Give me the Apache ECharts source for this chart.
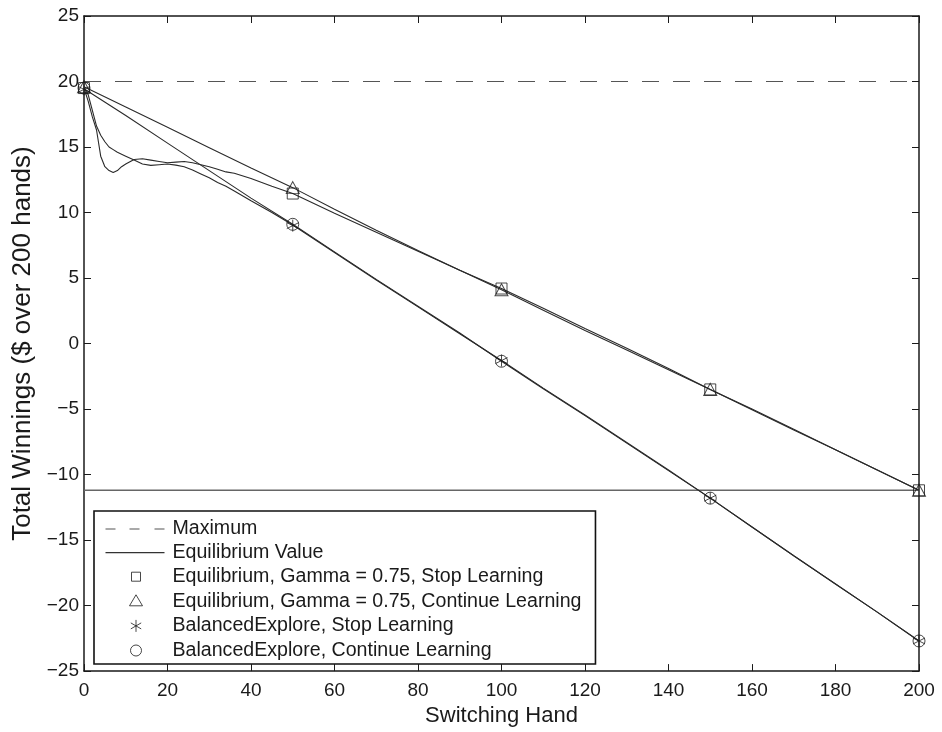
<!DOCTYPE html>
<html>
<head>
<meta charset="utf-8">
<script src="https://cdn.jsdelivr.net/npm/echarts@6/dist/echarts.min.js"></script>
<style>
html,body{margin:0;padding:0;background:#fff;}
#chart{width:942px;height:732px;}
</style>
</head>
<body>
<div id="chart"></div>
<script>
// ---- data ----
const xTicks = [0, 20, 40, 60, 80, 100, 120, 140, 160, 180, 200];
const yTicks = [-25, -20, -15, -10, -5, 0, 5, 10, 15, 20, 25];
const maximumValue = 20;
const equilibriumValue = -11.2;

const markerHands = [0, 50, 100, 150, 200];
const eqStopMarkers = [19.5, 11.45, 4.2, -3.5, -11.2];
const eqContMarkers = [19.6, 11.9, 4.1, -3.5, -11.2];
const balStopMarkers = [19.4, 9.0, -1.3, -11.8, -22.7];
const balContMarkers = [19.5, 9.1, -1.35, -11.8, -22.7];

const wavyHands = [0,1,2,3,4,5,6,7,8,9,10,12,14,16,18,20,22,24,26,28,30,32,34,36,40,45,50,60,70,80,90,100,110,120,130,140,150,160,170,180,190,200];
const eqStopCurve = [19.5,18.5,17.3,16.3,14.3,13.5,13.2,13.05,13.2,13.5,13.7,14.05,14.1,14.0,13.9,13.8,13.85,13.9,13.8,13.65,13.5,13.3,13.1,13.0,12.6,12.0,11.45,9.95,8.5,7.05,5.6,4.2,2.7,1.15,-0.35,-1.9,-3.5,-5.0,-6.55,-8.1,-9.65,-11.2];
const balStopCurve = [19.5,19.0,17.8,16.6,15.9,15.4,15.0,14.8,14.6,14.45,14.3,14.0,13.7,13.6,13.65,13.7,13.62,13.5,13.25,12.95,12.65,12.3,12.0,11.65,10.9,10.0,9.05,6.95,4.85,2.8,0.75,-1.3,-3.4,-5.45,-7.55,-9.65,-11.8,-14.0,-16.2,-18.35,-20.5,-22.7];

const straightHands = [0,10,20,30,40,50,60,70,80,90,100,110,120,130,140,150,160,170,180,190,200];
const eqContCurve = [19.6,18.05,16.5,14.95,13.4,11.9,10.25,8.65,7.1,5.6,4.1,2.55,1.0,-0.5,-2.0,-3.5,-5.05,-6.6,-8.1,-9.65,-11.2];
const balContCurve = [19.45,17.4,15.3,13.2,11.1,9.1,7.0,4.9,2.85,0.8,-1.35,-3.45,-5.5,-7.6,-9.7,-11.8,-14.0,-16.2,-18.35,-20.5,-22.7];

const legendNames = [
  'Maximum',
  'Equilibrium Value',
  'Equilibrium, Gamma = 0.75, Stop Learning',
  'Equilibrium, Gamma = 0.75, Continue Learning',
  'BalancedExplore, Stop Learning',
  'BalancedExplore, Continue Learning'
];

// ---- helpers ----
function zip(xs, ys) { return xs.map((x, i) => [x, ys[i]]); }
const FONT = 'Liberation Sans, Arial, Helvetica, sans-serif';
const INK = '#1a1a1a';
const starPath = 'path://M0,-6L0,6M-5.2,-3L5.2,3M-5.2,3L5.2,-3';
// legend icons: wide bounding box (63x20) with the symbol centered
const lgBox = 'M0 0M63 20';
const lgDash = 'path://' + lgBox + 'M1 9.4L11 9.4L11 10.6L1 10.6ZM25 9.4L35 9.4L35 10.6L25 10.6ZM50 9.4L60 9.4L60 10.6L50 10.6Z';
const lgSolid = 'path://' + lgBox + 'M1 9.4L60 9.4L60 10.6L1 10.6Z';
const lgSquare = 'path://' + lgBox + 'M27 5.5L36 5.5L36 14.5L27 14.5Z';
const lgTriangle = 'path://' + lgBox + 'M31.5 3.5L38 14.5L25 14.5Z';
const lgStar = 'path://' + lgBox + 'M31.5 4L31.5 16M26.3 7L36.7 13M26.3 13L36.7 7';
const lgCircle = 'path://' + lgBox + 'M37 10A5.5 5.5 0 1 1 26 10A5.5 5.5 0 1 1 37 10Z';

function curve(name, xs, ys) {
  return {
    type: 'line', name: name, data: zip(xs, ys), symbol: 'none', silent: true,
    lineStyle: { color: '#2a2a2a', width: 1.1 }, z: 3, animation: false
  };
}
function markers(name, ys, symbol, size) {
  return {
    type: 'scatter', name: name, data: zip(markerHands, ys), symbol: symbol, symbolSize: size,
    itemStyle: { color: 'rgba(0,0,0,0)', borderColor: '#1a1a1a', borderWidth: 1 },
    z: 5, animation: false
  };
}

const chart = echarts.init(document.getElementById('chart'), null, { renderer: 'canvas' });
function axisCommon() {
  return {
    type: 'value',
    axisLine: { show: true, onZero: false, lineStyle: { color: INK, width: 1.5 } },
    axisTick: { show: true, inside: true, length: 7, lineStyle: { color: INK, width: 1 } },
    splitLine: { show: false }
  };
}
const lgItemStyle = { color: 'rgba(0,0,0,0)', borderColor: '#1a1a1a', borderWidth: 1 };
chart.setOption({
  animation: false,
  backgroundColor: '#ffffff',
  textStyle: { fontFamily: FONT },
  grid: { left: 84, right: 23, top: 16, bottom: 59, containLabel: false },
  xAxis: [
    Object.assign(axisCommon(), {
      min: 0, max: 200, interval: 20, position: 'bottom',
      axisLabel: { show: true, color: INK, fontSize: 19, margin: 10, fontFamily: FONT },
      name: 'Switching Hand', nameLocation: 'middle', nameGap: 29,
      nameTextStyle: { color: INK, fontSize: 22, fontFamily: FONT }
    }),
    Object.assign(axisCommon(), {
      min: 0, max: 200, interval: 20, position: 'top', axisLabel: { show: false }
    })
  ],
  yAxis: [
    Object.assign(axisCommon(), {
      min: -25, max: 25, interval: 5, position: 'left',
      axisLabel: { show: true, color: INK, fontSize: 19, margin: 5, fontFamily: FONT,
        formatter: v => (v < 0 ? '\u2212' + Math.abs(v) : String(v)) },
      name: 'Total Winnings ($ over 200 hands)', nameLocation: 'middle', nameGap: 48, nameRotate: 90,
      nameTextStyle: { color: INK, fontSize: 26, fontFamily: FONT }
    }),
    Object.assign(axisCommon(), {
      min: -25, max: 25, interval: 5, position: 'right', axisLabel: { show: false }
    })
  ],
  legend: {
    show: true, orient: 'vertical', left: 94, top: 511,
    itemWidth: 63, itemHeight: 20, itemGap: 3.6,
    padding: [8, 14, 3, 10],
    borderColor: '#111', borderWidth: 1.6, backgroundColor: '#fff',
    textStyle: { color: INK, fontSize: 19.6, fontFamily: FONT, lineHeight: 20 },
    selectedMode: false,
    data: [
      { name: legendNames[0], icon: lgDash, itemStyle: { color: '#555', borderWidth: 0 } },
      { name: legendNames[1], icon: lgSolid, itemStyle: { color: '#333', borderWidth: 0 } },
      { name: legendNames[2], icon: lgSquare, itemStyle: lgItemStyle },
      { name: legendNames[3], icon: lgTriangle, itemStyle: lgItemStyle },
      { name: legendNames[4], icon: lgStar, itemStyle: lgItemStyle },
      { name: legendNames[5], icon: lgCircle, itemStyle: lgItemStyle }
    ]
  },
  series: [
    {
      type: 'line', name: legendNames[0], symbol: 'none', silent: true, z: 2,
      data: [[0, maximumValue], [200, maximumValue]],
      itemStyle: { color: '#555' },
      lineStyle: { color: '#555', width: 1.2, type: [17, 14] }
    },
    {
      type: 'line', name: legendNames[1], symbol: 'none', silent: true, z: 2,
      data: [[0, equilibriumValue], [200, equilibriumValue]],
      itemStyle: { color: '#666' },
      lineStyle: { color: '#666', width: 1.5 }
    },
    curve('c1', wavyHands, eqStopCurve),
    curve('c2', straightHands, eqContCurve),
    curve('c3', wavyHands, balStopCurve),
    curve('c4', straightHands, balContCurve),
    markers(legendNames[2], eqStopMarkers, 'rect', 11),
    markers(legendNames[3], eqContMarkers, 'triangle', [13, 12]),
    markers(legendNames[4], balStopMarkers, starPath, 12),
    markers(legendNames[5], balContMarkers, 'circle', 12)
  ]
});
</script>
</body>
</html>
